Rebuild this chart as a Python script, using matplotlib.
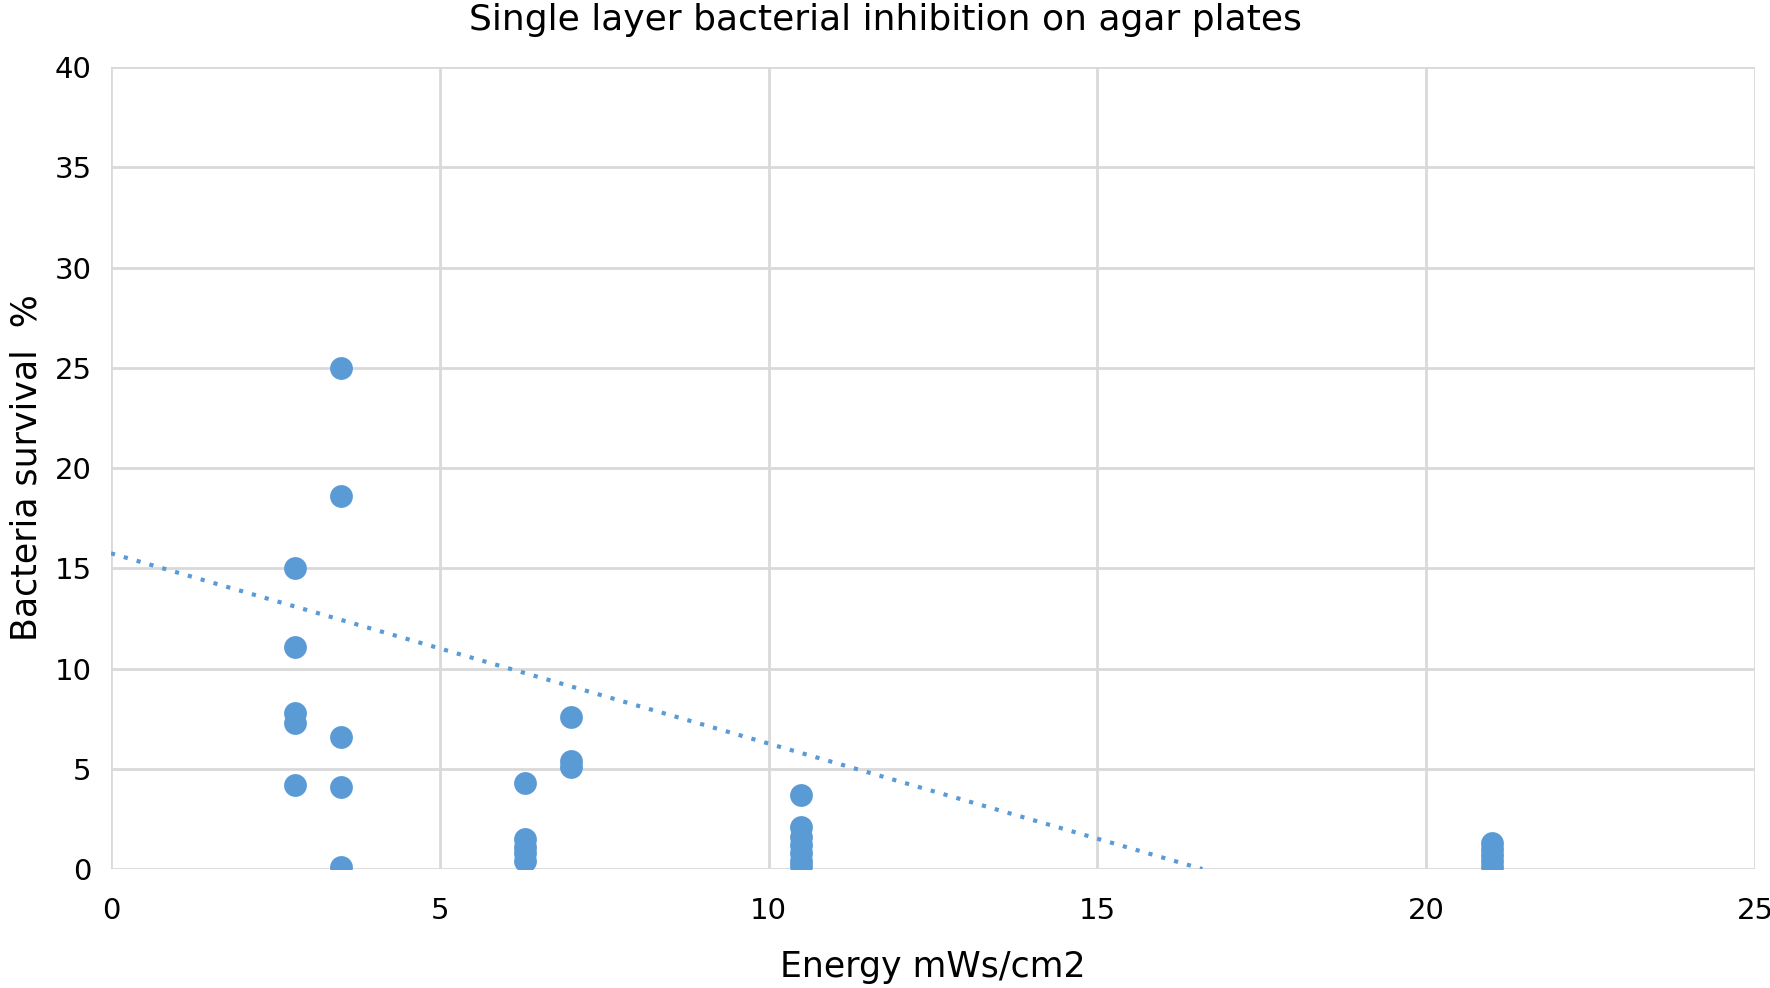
import numpy as np
import matplotlib
matplotlib.use("Agg")
import matplotlib.pyplot as plt

# energy (mWs/cm2) and survival (%) per plate
energy = [2.8, 2.8, 2.8, 2.8, 2.8,
          3.5, 3.5, 3.5, 3.5, 3.5,
          6.3, 6.3, 6.3, 6.3, 6.3,
          7.0, 7.0, 7.0,
          10.5, 10.5, 10.5, 10.5, 10.5, 10.5, 10.5,
          21.0, 21.0, 21.0, 21.0, 21.0]
survival = [15.0, 11.1, 7.8, 7.3, 4.2,
            25.0, 18.6, 6.6, 4.1, 0.1,
            4.3, 1.5, 1.1, 0.8, 0.4,
            7.6, 5.4, 5.1,
            3.7, 2.1, 1.6, 1.2, 0.8, 0.4, 0.15,
            1.3, 1.0, 0.7, 0.4, 0.1]

# trendline as drawn in the source chart
trend_intercept = 15.75
trend_slope = -0.949

x_ticks = [0, 5, 10, 15, 20, 25]
y_ticks = [0, 5, 10, 15, 20, 25, 30, 35, 40]

blue = "#5B9BD5"

fig = plt.figure(figsize=(17.7, 9.88), dpi=100)
ax = fig.add_axes([0.0627, 0.1204, 0.9288, 0.8116])

ax.scatter(energy, survival, s=270, color=blue, zorder=3, linewidths=0)

# trendline stops where it hits the x axis
x_end = -trend_intercept / trend_slope
xs = np.array([0, x_end])
ax.plot(xs, trend_intercept + trend_slope * xs, linestyle=(0, (1, 2.2)),
        linewidth=3, color=blue, zorder=2)

ax.set_xlim(0, 25)
ax.set_ylim(0, 40)
ax.set_xticks(x_ticks)
ax.set_yticks(y_ticks)
ax.grid(True, color="#D9D9D9", linewidth=2)
ax.set_axisbelow(True)
for side in ["top", "right", "left", "bottom"]:
    ax.spines[side].set_visible(False)
ax.tick_params(length=0, labelsize=21)
ax.tick_params(axis="x", pad=20)
ax.tick_params(axis="y", pad=14)

fig.suptitle("Single layer bacterial inhibition on agar plates", fontsize=26,
             y=0.997, va="top")
ax.set_xlabel("Energy mWs/cm2", fontsize=25, labelpad=18)
ax.set_ylabel("Bacteria survival  %", fontsize=25, labelpad=8)

fig.savefig("out.png", dpi=100)
